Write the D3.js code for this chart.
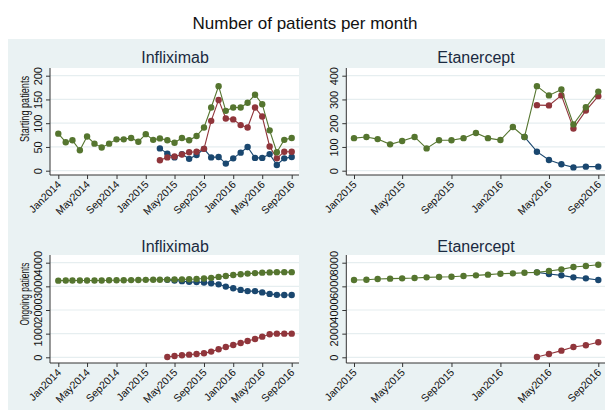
<!DOCTYPE html>
<html><head><meta charset="utf-8">
<script src="https://cdn.jsdelivr.net/npm/d3@7"></script>
<style>body{margin:0;background:#fff}svg{display:block;font-family:Arial,"Liberation Sans",sans-serif}</style>
</head><body><svg id="c" width="605" height="410"></svg>
<script>
// ---------- data ----------
const chartTitle = "Number of patients per month";
const drugNames = ["Infliximab", "Etanercept"];
const rowTitles = ["Starting patients", "Ongoing patients"];

const inflixTickLabels = ["Jan2014","May2014","Sep2014","Jan2015","May2015","Sep2015","Jan2016","May2016","Sep2016"];
const etanTickLabels = ["Jan2015","May2015","Sep2015","Jan2016","May2016","Sep2016"];

const inflixStartYTicks = [0, 50, 100, 150, 200];
const etanStartYTicks = [0, 100, 200, 300, 400];
const inflixOngoYTicks = [0, 1000, 2000, 3000, 4000];
const etanOngoYTicks = [0, 2000, 4000, 6000, 8000];

// Infliximab, starting patients (total from Jan2014, originator & biosimilar from Mar2015)
const inflixStartTotal = [78, 60, 64, 43, 72, 57, 49, 57, 66, 66, 69, 61, 77, 65, 68, 64, 59, 69, 64, 73, 91, 133, 178, 126, 133, 133, 143, 160, 140, 85, 39, 65, 69];
const inflixStartOrig = [47, 36, 28, 35, 25, 33, 46, 28, 29, 15, 26, 38, 50, 27, 27, 35, 12, 26, 29];
const inflixStartBio = [22, 28, 30, 34, 39, 40, 46, 105, 149, 110, 108, 96, 91, 133, 114, 51, 26, 40, 40];

// Etanercept, starting patients (total from Jan2015, originator from Mar2016, biosimilar from Apr2016)
const etanStartTotal = [137, 142, 133, 111, 125, 142, 94, 128, 128, 137, 159, 137, 129, 184, 142, 356, 317, 342, 195, 267, 333];
const etanStartOrig = [142, 80, 45, 27, 14, 17, 17];
const etanStartBio = [276, 275, 317, 178, 253, 314];

// Infliximab, ongoing patients (total from Jan2014, originator & biosimilar from Apr2015)
const inflixOngoTotal = [3240, 3245, 3245, 3245, 3245, 3250, 3250, 3255, 3255, 3260, 3265, 3270, 3275, 3280, 3280, 3285, 3290, 3295, 3300, 3310, 3330, 3360, 3400, 3440, 3480, 3510, 3540, 3560, 3580, 3590, 3600, 3600, 3600];
const inflixOngoOrig = [3275, 3250, 3220, 3190, 3180, 3160, 3130, 3085, 2990, 2920, 2850, 2800, 2800, 2745, 2680, 2640, 2635, 2635];
const inflixOngoBio = [14, 56, 85, 113, 141, 169, 240, 338, 437, 521, 606, 690, 775, 873, 972, 1000, 1000, 1000];

// Etanercept, ongoing patients (total from Jan2015, originator & biosimilar from Apr2016)
const etanOngoTotal = [6535, 6563, 6620, 6650, 6676, 6700, 6760, 6790, 6817, 6870, 6930, 6990, 7070, 7100, 7155, 7183, 7296, 7437, 7634, 7718, 7831];
const etanOngoOrig = [7183, 7042, 6930, 6760, 6676, 6535];
const etanOngoBio = [28, 282, 563, 873, 1014, 1268];

// ---------- drawing ----------
const colors = {orig: "#1a476f", bio: "#90353b", total: "#55752f"};
const parseM = d3.timeParse("%Y-%m");
const parseTick = d3.timeParse("%b%Y");
const fmtTick = d3.timeFormat("%b%Y");
function pts(start, vals) {
  const s = parseM(start);
  return vals.map((v, i) => ({d: d3.timeMonth.offset(s, i), v}));
}

const svg = d3.select("#c");
svg.append("rect").attr("x", 8).attr("y", 39).attr("width", 597).attr("height", 371).attr("fill", "#eaf2f3");
svg.append("text").attr("x", 305).attr("y", 29).attr("text-anchor", "middle")
  .attr("font-size", 17).attr("fill", "#111").text(chartTitle);

const cols = [
  {xr: [58.3, 291.7], px: [50, 299], ticks: inflixTickLabels, dom: ["Jan2014", "Sep2016"], title: drugNames[0], tcx: 175, ytitle: true},
  {xr: [354, 598.3], px: [346.3, 606], ticks: etanTickLabels, dom: ["Jan2015", "Sep2016"], title: drugNames[1], tcx: 476, ytitle: false}
];
const rows = [
  {yr: [170.7, 75.7], py: [68, 175], tby: 63, ytc: 109, ylen: 66, title: rowTitles[0]},
  {yr: [357.3, 262.7], py: [255, 363], tby: 251.5, ytc: 294, ylen: 63, title: rowTitles[1]}
];
const panels = [
  {c: 0, r: 0, yt: inflixStartYTicks, s: [pts("2015-03", inflixStartOrig), pts("2015-03", inflixStartBio), pts("2014-01", inflixStartTotal)]},
  {c: 1, r: 0, yt: etanStartYTicks, s: [pts("2016-03", etanStartOrig), pts("2016-04", etanStartBio), pts("2015-01", etanStartTotal)]},
  {c: 0, r: 1, yt: inflixOngoYTicks, s: [pts("2015-04", inflixOngoOrig), pts("2015-04", inflixOngoBio), pts("2014-01", inflixOngoTotal)]},
  {c: 1, r: 1, yt: etanOngoYTicks, s: [pts("2016-04", etanOngoOrig), pts("2016-04", etanOngoBio), pts("2015-01", etanOngoTotal)]}
];
const serColors = [colors.orig, colors.bio, colors.total];

panels.forEach(p => {
  const C = cols[p.c], R = rows[p.r];
  const g = svg.append("g");
  const x = d3.scaleTime().domain(C.dom.map(parseTick)).range(C.xr);
  const y = d3.scaleLinear().domain([p.yt[0], p.yt[p.yt.length - 1]]).range(R.yr);
  // plot region
  g.append("rect").attr("x", C.px[0]).attr("y", R.py[0]).attr("width", C.px[1] - C.px[0]).attr("height", R.py[1] - R.py[0]).attr("fill", "#fff");
  // grid
  g.selectAll(".grid").data(p.yt).join("line")
    .attr("x1", C.px[0]).attr("x2", C.px[1]).attr("y1", d => y(d)).attr("y2", d => y(d))
    .attr("stroke", "#e6eef0").attr("stroke-width", 1.2);
  // subtitle
  g.append("text").attr("x", C.tcx).attr("y", R.tby).attr("text-anchor", "middle")
    .attr("font-size", 16).attr("fill", "#1a2a40").text(C.title);
  // x axis
  const xa = d3.axisBottom(x).tickValues(C.ticks.map(parseTick)).tickSize(4).tickFormat(fmtTick);
  const gx = g.append("g").attr("transform", `translate(0,${R.py[1]})`).call(xa);
  gx.select(".domain").remove();
  gx.selectAll(".tick line").attr("stroke", "#333");
  gx.selectAll(".tick text").attr("font-size", 10.5).attr("fill", "#111").attr("font-family", "Arial, 'Liberation Sans', sans-serif")
    .attr("text-anchor", "end").attr("dy", null).attr("y", null)
    .attr("transform", "translate(3,10) rotate(-45)");
  g.append("line").attr("x1", C.px[0]).attr("x2", C.px[1]).attr("y1", R.py[1]).attr("y2", R.py[1]).attr("stroke", "#333").attr("stroke-width", 1);
  // y axis
  const ya = d3.axisLeft(y).tickValues(p.yt).tickSize(4).tickFormat(d3.format("d"));
  const gy = g.append("g").attr("transform", `translate(${C.px[0]},0)`).call(ya);
  gy.select(".domain").remove();
  gy.selectAll(".tick line").attr("stroke", "#333");
  gy.selectAll(".tick text").attr("font-size", 11).attr("fill", "#111").attr("font-family", "Arial, 'Liberation Sans', sans-serif")
    .attr("text-anchor", "middle").attr("x", null).attr("dy", null)
    .attr("transform", "translate(-8.5,0) rotate(-90)");
  g.append("line").attr("x1", C.px[0]).attr("x2", C.px[0]).attr("y1", R.py[0]).attr("y2", R.py[1]).attr("stroke", "#333").attr("stroke-width", 1);
  if (C.ytitle) {
    g.append("text").attr("transform", `translate(29,${R.ytc}) rotate(-90)`).attr("text-anchor", "middle")
      .attr("font-size", 12.5).attr("fill", "#111").attr("textLength", R.ylen).attr("lengthAdjust", "spacingAndGlyphs").text(R.title);
  }
  // series
  const line = d3.line().x(d => x(d.d)).y(d => y(d.v));
  p.s.forEach((s, i) => {
    g.append("path").datum(s).attr("d", line).attr("fill", "none").attr("stroke", serColors[i]).attr("stroke-width", 1.1);
    g.append("g").selectAll("circle").data(s).join("circle")
      .attr("cx", d => x(d.d)).attr("cy", d => y(d.v)).attr("r", 3.2).attr("fill", serColors[i]);
  });
});
</script></body></html>
